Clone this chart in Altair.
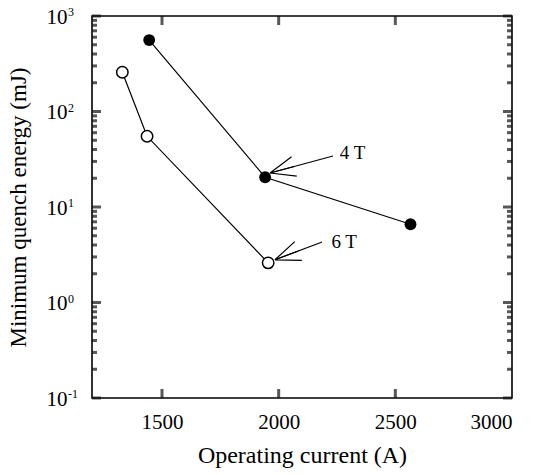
import math
import altair as alt
import pandas as pd

# ---- data ----
current_4T = [1445, 1942, 2565]
energy_4T = [560, 20.5, 6.6]
current_6T = [1330, 1436, 1955]
energy_6T = [258, 55, 2.6]

# annotation arrows: label position, arrow start, arrow tip (data units)
ann_text = ["4 T", "6 T"]
ann_x = [2262, 2226]
ann_y = [36.5, 4.25]
arr_x0 = [2233, 2186]
arr_y0 = [34.2, 4.3]
arr_x1 = [1963, 1984]
arr_y1 = [22.7, 2.8]

x_ticks = [1500, 2000, 2500, 3000]
y_major = [0.1, 1, 10, 100, 1000]
y_exp = ["-1", "0", "1", "2", "3"]
y_minor = [m * d for d in [0.1, 1, 10, 100] for m in range(2, 10)]

W, H = 420, 382
XMIN, XMAX = 1200, 3000
YMIN, YMAX = 0.1, 1000
FONT = "Liberation Serif"

def px(xv, yv):
    sx = (xv - XMIN) / (XMAX - XMIN) * W
    sy = H - (math.log10(yv) - math.log10(YMIN)) / (math.log10(YMAX) - math.log10(YMIN)) * H
    return sx, sy

angles = []
for a, b, c, d in zip(arr_x0, arr_y0, arr_x1, arr_y1):
    p0 = px(a, b)
    p1 = px(c, d)
    angles.append(math.degrees(math.atan2(p1[1] - p0[1], p1[0] - p0[0])) % 360)

series = pd.DataFrame({
    "I": current_4T + current_6T,
    "E": energy_4T + energy_6T,
    "B": ["4 T"] * 3 + ["6 T"] * 3,
})
ann = pd.DataFrame({"t": ann_text, "x": ann_x, "y": ann_y,
                    "x0": arr_x0, "y0": arr_y0, "x1": arr_x1, "y1": arr_y1,
                    "ang": angles})
ymaj = pd.DataFrame({"v": y_major, "e": y_exp})
ymin = pd.DataFrame({"v": y_minor})
xt = pd.DataFrame({"v": x_ticks[:-1]})

xs = alt.Scale(domain=[XMIN, XMAX], nice=False, zero=False)
ys = alt.Scale(type="log", domain=[YMIN, YMAX], nice=False)

xaxis = alt.Axis(values=x_ticks, format="d", title="Operating current (A)", grid=False,
                 ticks=False, tickSize=0, domain=False, labelFont=FONT, labelFontSize=21,
                 labelColor="black", labelPadding=13, titleFont=FONT, titleFontSize=24,
                 titleFontWeight="normal", titleColor="black", titlePadding=11)
yaxis = alt.Axis(values=y_major, labelExpr="'10'", title="Minimum quench energy (mJ)",
                 grid=False, ticks=False, tickSize=0, domain=False, labelFont=FONT,
                 labelFontSize=21, labelColor="black", labelPadding=25, labelOffset=1,
                 titleFont=FONT, titleFontSize=23, titleFontWeight="normal",
                 titleColor="black", titlePadding=16)

def ytick(df, xpos, length):
    return alt.Chart(df).mark_tick(color="#111111", thickness=3, size=length,
                                   orient="horizontal").encode(
        y=alt.Y("v:Q", scale=ys), x=alt.value(xpos))

def xtick(ypos, length):
    return alt.Chart(xt).mark_tick(color="#111111", thickness=3, size=length,
                                   orient="vertical").encode(
        x=alt.X("v:Q", scale=xs), y=alt.value(ypos))

ticks = [ytick(ymaj, 4.5, 9), ytick(ymin, 2.5, 5), ytick(ymaj, W - 4.5, 9),
         ytick(ymin, W - 2.5, 5), xtick(H - 4.5, 9), xtick(4.5, 9)]

base = alt.Chart(series)

lines = base.mark_line(color="black", strokeWidth=1.2).encode(
    x=alt.X("I:Q", scale=xs, axis=xaxis),
    y=alt.Y("E:Q", scale=ys, axis=yaxis),
    detail="B:N",
)
pts4 = base.transform_filter("datum.B == '4 T'").mark_point(
    shape="circle", filled=True, color="black", size=140, opacity=1
).encode(x=alt.X("I:Q", scale=xs), y=alt.Y("E:Q", scale=ys))
pts6 = base.transform_filter("datum.B == '6 T'").mark_point(
    shape="circle", filled=True, fill="white", stroke="black", strokeWidth=1.5,
    size=130, opacity=1
).encode(x=alt.X("I:Q", scale=xs), y=alt.Y("E:Q", scale=ys))

ab = alt.Chart(ann)
shafts = ab.mark_rule(color="black", strokeWidth=1.2).encode(
    x=alt.X("x0:Q", scale=xs), y=alt.Y("y0:Q", scale=ys),
    x2="x1:Q", y2="y1:Q")
heads = ab.mark_point(
    shape="M0,0L-1,-0.4M0,0L-1,0M0,0L-1,0.4", filled=False, color="black",
    strokeWidth=1.2, size=2500, opacity=1
).encode(x=alt.X("x1:Q", scale=xs), y=alt.Y("y1:Q", scale=ys),
         angle=alt.Angle("ang:Q", scale=None))
labels = ab.mark_text(font=FONT, fontSize=19, align="left", baseline="middle",
                      color="black").encode(
    x=alt.X("x:Q", scale=xs), y=alt.Y("y:Q", scale=ys), text="t:N")

exps = alt.Chart(ymaj).mark_text(font=FONT, fontSize=12, align="left", baseline="top",
                                 dy=-9, color="black").encode(
    x=alt.value(-24), y=alt.Y("v:Q", scale=ys), text="e:N")

chart = alt.layer(lines, *ticks, shafts, heads, pts4, pts6, labels, exps).properties(
    width=W, height=H,
    autosize=alt.AutoSizeParams(type="none"),
    padding={"left": 92, "top": 16, "right": 23, "bottom": 77},
    background="white",
).configure_view(stroke="black", strokeWidth=1.6)

chart.save("out.html", embed_options={"renderer": "svg", "actions": False})
